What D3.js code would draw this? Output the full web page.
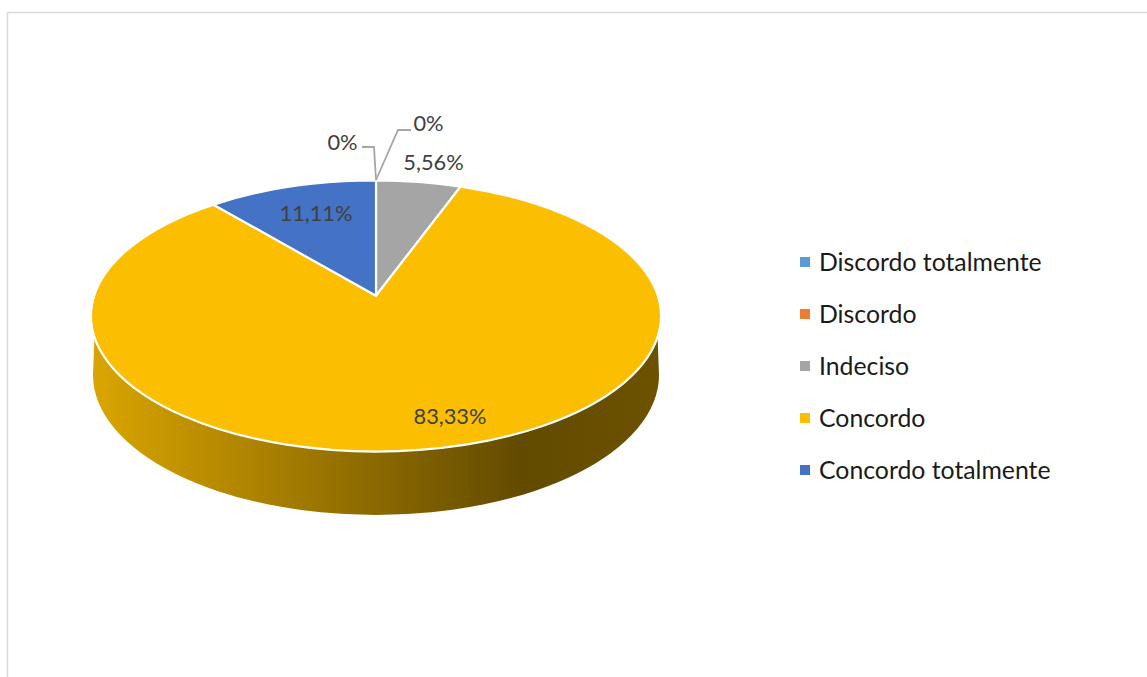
<!DOCTYPE html>
<html>
<head>
<meta charset="utf-8">
<script src="https://cdnjs.cloudflare.com/ajax/libs/d3/7.8.5/d3.min.js"></script>
<style>
  html, body { margin: 0; padding: 0; background: #fff; }
  svg { display: block; }
  text { font-family: Lato, "Open Sans", sans-serif; }
</style>
</head>
<body>
<svg id="chart" width="1147" height="677"></svg>
<script>
// Survey answers and their shares
const categories = ["Discordo totalmente", "Discordo", "Indeciso", "Concordo", "Concordo totalmente"];
const shares = [0, 0, 5.56, 83.33, 11.11];
const colors = ["#5b9bd5", "#ed7d31", "#a5a5a5", "#fbbe00", "#4472c4"];

const width = 1147, height = 677;
const svg = d3.select("#chart");

// Outer chart frame: only top and left edges fall inside the page
svg.append("path")
  .attr("d", `M7.5,${height} V12.5 H${width}`)
  .attr("fill", "none").attr("stroke", "#d9d9d9").attr("stroke-width", 1.5);

// Tilted disc geometry
const face = { cx: 376, cy: 316, rx: 285, ry: 135.5 };
const base = { cx: 376, cy: 375, rx: 283, ry: 140 };
const rimY = 337;            // where the side wall meets the top face
const perspective = 0.86;    // foreshortening of the pie angle around the ellipse

// Projective map: pie angle to the parameter on the top ellipse
function ellipseParam(a) {
  const turns = Math.round(a / (2 * Math.PI));
  const r = a - turns * 2 * Math.PI;
  return 2 * Math.atan(perspective * Math.tan(r / 2)) + turns * 2 * Math.PI;
}
function rimPoint(a) {
  const p = ellipseParam(a);
  return [face.cx + face.rx * Math.sin(p), face.cy - face.ry * Math.cos(p)];
}
// The hub is the image of the circle's centre under the same map
const hub = [face.cx, face.cy - face.ry * Math.cos(ellipseParam(Math.PI / 2))];

const pie = d3.pie().value(d => d).sort(null);
const arcs = pie(shares);

// Side wall of the disc, shaded left to right
const defs = svg.append("defs");
const wall = defs.append("linearGradient")
  .attr("id", "wallShade")
  .attr("gradientUnits", "userSpaceOnUse")
  .attr("x1", base.cx - base.rx).attr("x2", base.cx + base.rx)
  .attr("y1", 0).attr("y2", 0);
const baseColor = d3.color(colors[3]);
[[0, 0.87], [0.76, 0.39], [1, 0.43]].forEach(([o, k]) => {
  wall.append("stop").attr("offset", o)
    .attr("stop-color", d3.rgb(baseColor.r * k, baseColor.g * k, baseColor.b * k));
});

const rimDx = face.rx * Math.sqrt(1 - ((rimY - face.cy) / face.ry) ** 2);
svg.append("path")
  .attr("d", `M${face.cx - rimDx},${rimY}
    L${base.cx - base.rx},${base.cy}
    A${base.rx},${base.ry} 0 0 0 ${base.cx + base.rx},${base.cy}
    L${face.cx + rimDx},${rimY}
    L${face.cx},${face.cy} Z`)
  .attr("fill", "url(#wallShade)");

// Top face
function slicePath(d) {
  const s = rimPoint(d.startAngle), e = rimPoint(d.endAngle);
  const sweep = ellipseParam(d.endAngle) - ellipseParam(d.startAngle);
  const large = sweep > Math.PI ? 1 : 0;
  return `M${hub}L${s}A${face.rx},${face.ry} 0 ${large} 1 ${e}Z`;
}
svg.append("g").selectAll("path")
  .data(arcs)
  .join("path")
  .attr("d", slicePath)
  .attr("fill", (d, i) => colors[i])
  .attr("stroke", "#fff")
  .attr("stroke-width", 2.2)
  .attr("stroke-linejoin", "round");

// Value labels
const fmtShare = v => v === 0 ? "0%" : d3.format(".2f")(v).replace(".", ",") + "%";
const labelPlace = [
  { x: 342.5, y: 149.5, leader: [[376, 180], [374, 147], [362, 147]] },
  { x: 428.5, y: 131, leader: [[376, 180], [398, 130], [411, 130]] },
  { x: 433.5, y: 170 },
  { x: 450, y: 424 },
  { x: 316, y: 221 }
];
const line = d3.line();
labelPlace.forEach((p, i) => {
  if (p.leader) {
    svg.append("path").attr("d", line(p.leader))
      .attr("fill", "none").attr("stroke", "#a6a6a6").attr("stroke-width", 1.8);
  }
  svg.append("text")
    .attr("x", p.x).attr("y", p.y)
    .attr("text-anchor", "middle")
    .attr("font-size", 21.8)
    .attr("fill", "#404040")
    .text(fmtShare(shares[i]));
});

// Legend
const legendY = d3.scalePoint().domain(categories).range([262, 470]);
const legend = svg.append("g").selectAll("g")
  .data(categories)
  .join("g")
  .attr("transform", d => `translate(800,${legendY(d)})`);
legend.append("rect")
  .attr("x", 0).attr("y", -5).attr("width", 10).attr("height", 10)
  .attr("fill", (d, i) => colors[i]);
legend.append("text")
  .attr("x", 19).attr("y", 9)
  .attr("font-size", 24.8)
  .attr("fill", "#1a1a1a")
  .text(d => d);
</script>
</body>
</html>
